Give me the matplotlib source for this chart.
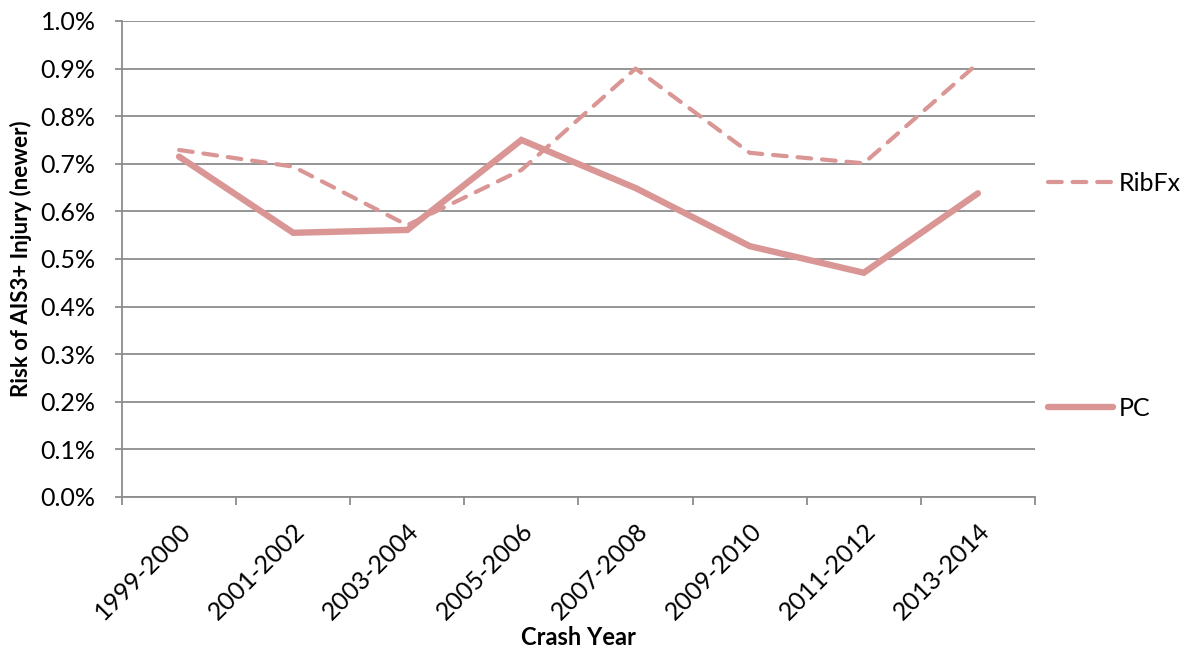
import numpy as np
import matplotlib
matplotlib.use('Agg')
import matplotlib.pyplot as plt
from matplotlib.ticker import PercentFormatter, FixedLocator

plt.rcParams['font.family'] = ['Lato', 'DejaVu Sans']

years = ['1999-2000', '2001-2002', '2003-2004', '2005-2006',
         '2007-2008', '2009-2010', '2011-2012', '2013-2014']
ribfx = [0.729, 0.694, 0.571, 0.687, 0.900, 0.723, 0.701, 0.911]
pc = [0.715, 0.555, 0.561, 0.750, 0.649, 0.527, 0.471, 0.638]

col = '#D99694'
grid = '#8C8C8C'

fig = plt.figure(figsize=(11.88, 6.51), dpi=100)
ax = fig.add_axes([0.1027, 0.2366, 0.7685, 0.7312])

x = np.arange(len(years))
l1, = ax.plot(x, ribfx, color=col, lw=3.0, ls=(0, (3.3, 2.6)),
              dash_capstyle='round', label='RibFx')
l2, = ax.plot(x, pc, color=col, lw=4.6, solid_capstyle='round',
              solid_joinstyle='miter', label='PC')

ax.set_ylim(0, 1.0)
ax.set_xlim(-0.5, len(years) - 0.5)
ax.set_yticks(np.arange(0, 1.01, 0.1))
ax.yaxis.set_major_formatter(PercentFormatter(decimals=1))
ax.yaxis.grid(True, color=grid, lw=1.3)
ax.set_axisbelow(True)

ax.set_xticks(x)
ax.set_xticklabels(years, rotation=45, ha='right', rotation_mode='anchor')
ax.xaxis.set_minor_locator(FixedLocator(np.arange(-0.5, len(years), 1.0)))
ax.tick_params(axis='x', which='major', length=0, pad=16, labelsize=18)
ax.tick_params(axis='x', which='minor', length=6, color=grid, width=1.3)
ax.tick_params(axis='y', length=5, color=grid, width=1.3, labelsize=18, pad=14)

for s in ['top', 'right']:
    ax.spines[s].set_visible(False)
for s in ['left', 'bottom']:
    ax.spines[s].set_color(grid)
    ax.spines[s].set_linewidth(1.3)

ax.set_ylabel('Risk of AIS3+ Injury (newer)', fontsize=16, fontweight='bold', labelpad=6)
ax.set_xlabel('Crash Year', fontsize=17, fontweight='bold', labelpad=1)

ax.legend(handles=[l1, l2], loc='upper left', bbox_to_anchor=(0.995, 0.72),
          frameon=False, fontsize=18, handlelength=2.6, handletextpad=0.25,
          labelspacing=8.1, borderaxespad=0.3)

fig.savefig('out.png', dpi=100)
